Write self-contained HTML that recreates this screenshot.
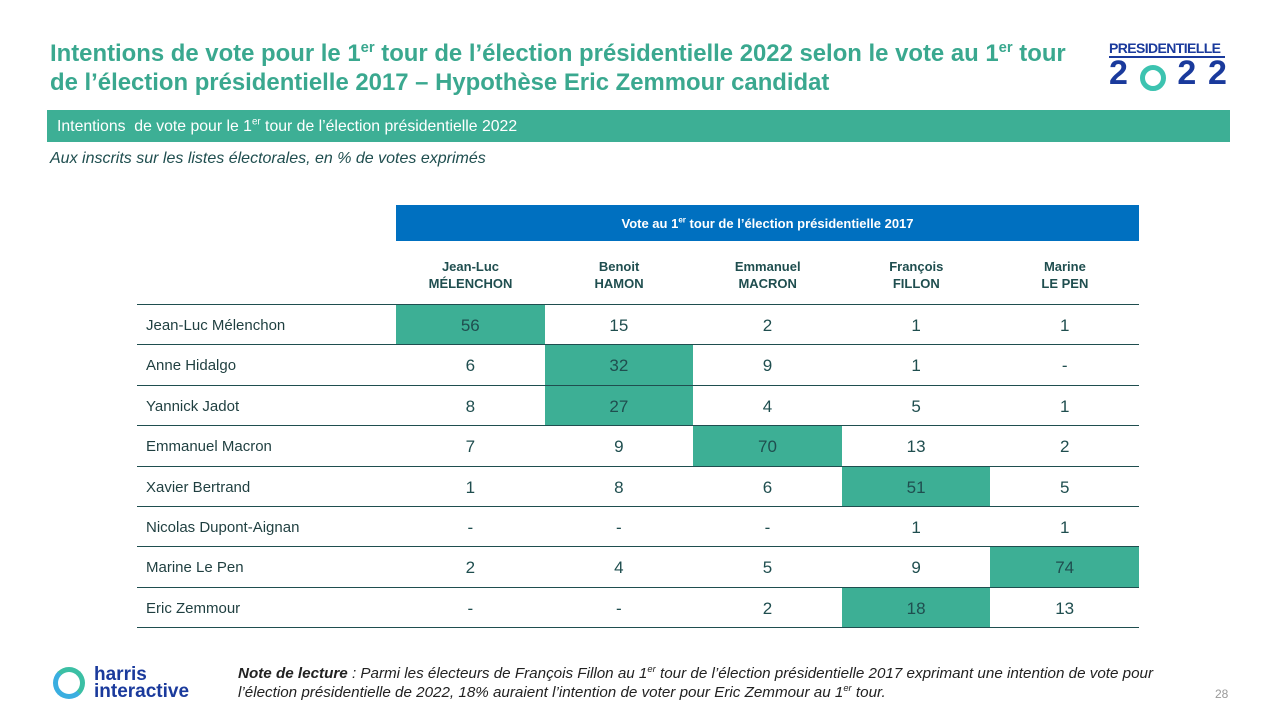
<!DOCTYPE html>
<html><head><meta charset="utf-8"><style>
body{margin:0;width:1280px;height:720px;background:#fff;font-family:"Liberation Sans",sans-serif;position:relative;overflow:hidden}
.abs{position:absolute}
.title{left:50px;top:39px;width:1040px;font-size:23.9px;font-weight:bold;color:#3aa88f;line-height:29px}
sup{font-size:62%;line-height:0}
.bar{left:47px;top:110px;width:1183px;height:32px;background:#3daf95;color:#fff;font-size:15.8px;line-height:33px;padding-left:10px;box-sizing:border-box}
.sub{left:50px;top:150px;font-size:16px;font-style:italic;color:#1f4e4f}
.blue{left:396px;top:205px;width:743px;height:36px;background:#0070c0;color:#fff;font-size:13px;font-weight:bold;text-align:center;line-height:37px}
.ch{top:258px;width:149px;text-align:center;font-size:13px;font-weight:bold;color:#1f4e4f;line-height:17px}
.note{left:238px;top:664px;width:960px;font-size:15.2px;font-style:italic;color:#222;line-height:19px}
</style></head><body>
<div class="abs title">Intentions de vote pour le 1<sup>er</sup> tour de l’élection présidentielle 2022 selon le vote au 1<sup>er</sup> tour de l’élection présidentielle 2017 – Hypothèse Eric Zemmour candidat</div>
<div class="abs" style="left:1109px;top:40px;width:118px;height:50px">
<div style="font-size:14px;font-weight:bold;color:#1a3a9c;letter-spacing:-0.6px;border-bottom:2px solid #1a3a9c;width:116px;line-height:16px">PRESIDENTIELLE</div>
<div style="font-size:34px;font-weight:bold;color:#1a3a9c;line-height:30px;display:flex;justify-content:space-between;width:118px"><span>2</span><span style="display:inline-block;width:16px;height:16px;border:5px solid #3cc3b0;border-radius:50%;margin-top:7px"></span><span>2</span><span>2</span></div>
</div>
<div class="abs bar">Intentions&nbsp; de vote pour le 1<sup>er</sup> tour de l’élection présidentielle 2022</div>
<div class="abs sub">Aux inscrits sur les listes électorales, en % de votes exprimés</div>
<div class="abs blue">Vote au 1<sup>er</sup> tour de l’élection présidentielle 2017</div>
<div id="tbl"></div>
<div class="abs" style="left:53px;top:667px;width:140px;height:34px">
<div style="position:absolute;left:0;top:0;width:22px;height:22px;border:5px solid #3bbfa4;border-radius:50%;border-left-color:#3aaee0;border-bottom-color:#3aaee0"></div>
<div style="position:absolute;left:41px;top:-1px;font-size:19px;font-weight:bold;color:#1a3a9c;line-height:17px">harris<br>interactive</div>
</div>
<div class="abs note"><b>Note de lecture</b> : Parmi les électeurs de François Fillon au 1<sup>er</sup> tour de l’élection présidentielle 2017 exprimant une intention de vote pour l’élection présidentielle de 2022, 18% auraient l’intention de voter pour Eric Zemmour au 1<sup>er</sup> tour.</div>
<div class="abs" style="left:1215px;top:687px;font-size:12px;color:#999">28</div>
<script>
const columns=[["Jean-Luc","MÉLENCHON"],["Benoit","HAMON"],["Emmanuel","MACRON"],["François","FILLON"],["Marine","LE PEN"]];
const rows=["Jean-Luc Mélenchon","Anne Hidalgo","Yannick Jadot","Emmanuel Macron","Xavier Bertrand","Nicolas Dupont-Aignan","Marine Le Pen","Eric Zemmour"];
const values=[["56","15","2","1","1"],["6","32","9","1","-"],["8","27","4","5","1"],["7","9","70","13","2"],["1","8","6","51","5"],["-","-","-","1","1"],["2","4","5","9","74"],["-","-","2","18","13"]];
const highlight=[[0,0],[1,1],[2,1],[3,2],[4,3],[6,4],[7,3]];
const tbl=document.getElementById('tbl');
const x0=396,cw=148.6,y0=304,rh=40.4;
columns.forEach((c,i)=>{const d=document.createElement('div');d.className='abs ch';d.style.left=(x0+i*cw)+'px';d.innerHTML=c[0]+'<br>'+c[1];


tbl.appendChild(d);});
function line(y){const l=document.createElement('div');l.className='abs';l.style.cssText=`left:137px;top:${y}px;width:1002px;height:1px;background:#1f4e4f`;


tbl.appendChild(l);}
rows.forEach((r,ri)=>{const y=y0+ri*rh;
const lab=document.createElement('div');lab.className='abs';lab.style.cssText=`left:146px;top:${y+2}px;height:${rh}px;line-height:${rh}px;font-size:15px;color:#1f3f40`;lab.textContent=r;


tbl.appendChild(lab);
values[ri].forEach((v,ci)=>{const hl=highlight.some(h=>h[0]==ri&&h[1]==ci);const c=document.createElement('div');c.className='abs';
c.style.cssText=`left:${x0+ci*cw}px;top:${y}px;width:${cw}px;height:${rh}px;line-height:${rh+4}px;text-align:center;font-size:17px;color:#1f4e4f;background:${hl?'#3daf95':'transparent'}`;c.textContent=v;


tbl.appendChild(c);});
line(y);});
line(y0+rows.length*rh);
</script>
</body></html>
